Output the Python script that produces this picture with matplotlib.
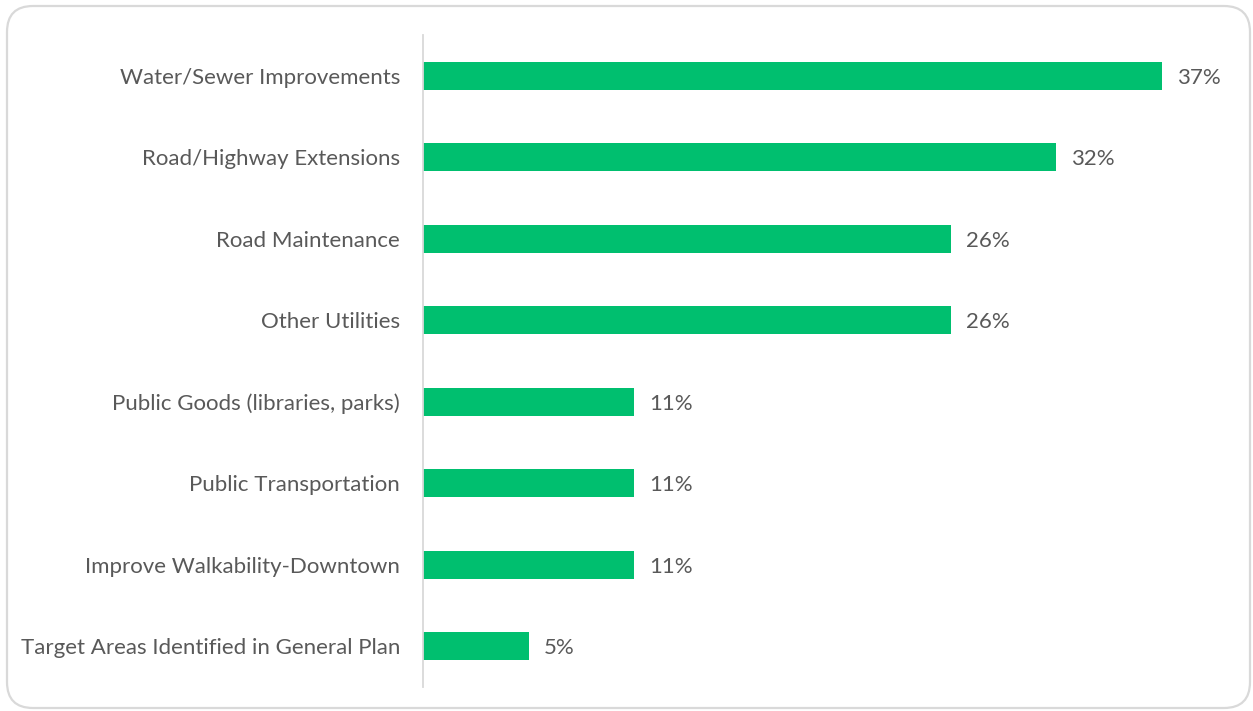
import matplotlib
matplotlib.use("Agg")
import matplotlib.pyplot as plt
from matplotlib.patches import FancyBboxPatch

# Survey results: share of respondents choosing each infrastructure priority
categories = [
    "Water/Sewer Improvements",
    "Road/Highway Extensions",
    "Road Maintenance",
    "Other Utilities",
    "Public Goods (libraries, parks)",
    "Public Transportation",
    "Improve Walkability-Downtown",
    "Target Areas Identified in General Plan",
]
responses = [7, 6, 5, 5, 2, 2, 2, 1]
respondents = 19
percent = [100.0 * r / respondents for r in responses]

BAR_COLOR = "#00BF6F"
TEXT_COLOR = "#595959"
LINE_COLOR = "#D9D9D9"
FONT_SIZE = 16

plt.rcParams["font.family"] = ["Lato", "DejaVu Sans"]

W, H, DPI = 1253, 711, 100
fig = plt.figure(figsize=(W / DPI, H / DPI), dpi=DPI)
fig.patch.set_facecolor("white")

# rounded frame around the chart area
frame = FancyBboxPatch((7, 3), 1243, 702,
                       boxstyle="round,pad=0,rounding_size=26",
                       transform=None, facecolor="none",
                       edgecolor=LINE_COLOR, linewidth=1.6, zorder=-1)
fig.patches.append(frame)

ax = fig.add_axes([423 / W, 1 - 687 / H, (1225 - 423) / W, (687 - 35) / H])
ax.set_facecolor("none")
ax.set_zorder(2)

ypos = list(range(len(categories)))
ax.barh(ypos, percent, height=0.345, color=BAR_COLOR, zorder=2)

for y, p in zip(ypos, percent):
    ax.annotate(f"{p:.0f}%", xy=(p, y), xytext=(11, 0),
                textcoords="offset points", va="center_baseline", ha="left",
                fontsize=FONT_SIZE, color=TEXT_COLOR)

ax.set_xlim(0, 40)
ax.set_ylim(len(categories) - 0.5, -0.5)
ax.set_yticks(ypos)
ax.set_yticklabels(categories, fontsize=FONT_SIZE, color=TEXT_COLOR)
ax.tick_params(axis="y", length=0, pad=16.5)
ax.set_xticks([])

for side in ["top", "right", "bottom"]:
    ax.spines[side].set_visible(False)
ax.spines["left"].set_color(LINE_COLOR)
ax.spines["left"].set_linewidth(1.3)

fig.savefig("out.png", dpi=DPI)
